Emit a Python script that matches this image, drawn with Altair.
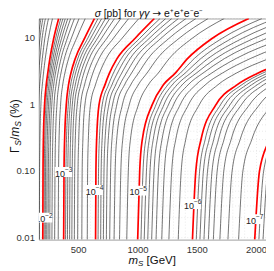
import altair as alt
import pandas as pd

# Gamma_S/m_S (%) heights at which each contour's m_S [GeV] was read
G = [0.0093, 0.1, 0.3, 1, 2, 3, 5, 10, 20]

# red decade contours 1e-2 ... 1e-7 pb
red_m = [
    [198, 200, 203, 213, 227, 240, 258, 290, 332],
    [374, 377, 382, 396, 415, 435, 472, 550, 634],
    [643, 646, 652, 672, 722, 760, 825, 975, 1139],
    [998, 1015, 1037, 1120, 1215, 1315, 1420, 1625, 1935],
    [1460, 1488, 1532, 1657, 1835, 2010, 2350, 3000, 3800],
    [1985, 2025, 2110, 2300, 2500, 2700, 3000, 3600, 4400],
]

# black contours k x 10^n (k = 9 ... 2 from left to right inside each decade)
black_above = [
    [108, 110, 112, 117, 123, 128, 136, 147, 169],
    [116, 118, 120, 125, 132, 137, 146, 160, 183],
    [125, 127, 129, 135, 142, 148, 158, 174, 199],
    [136, 138, 140, 147, 155, 163, 174, 192, 220],
    [151, 153, 155, 162, 172, 181, 194, 215, 246],
    [169, 171, 174, 182, 194, 204, 219, 245, 280],
]
black_2_3 = [
    [209, 211, 214, 224, 238, 252, 271, 306, 350],
    [219, 221, 224, 235, 250, 263, 284, 321, 368],
    [231, 233, 236, 247, 262, 276, 298, 338, 388],
    [243, 245, 249, 260, 275, 290, 313, 356, 409],
    [257, 259, 263, 274, 290, 305, 330, 377, 433],
    [275, 278, 282, 293, 310, 326, 352, 404, 465],
    [298, 301, 305, 317, 334, 351, 380, 438, 504],
    [328, 331, 335, 348, 366, 384, 416, 482, 556],
]
black_3_4 = [
    [390, 393, 398, 413, 433, 455, 493, 576, 664],
    [406, 409, 414, 429, 452, 474, 514, 601, 695],
    [424, 427, 432, 447, 472, 495, 537, 629, 727],
    [443, 446, 451, 466, 493, 518, 562, 658, 763],
    [464, 467, 472, 488, 518, 544, 590, 692, 803],
    [492, 495, 501, 517, 550, 578, 627, 737, 856],
    [527, 530, 536, 553, 590, 620, 673, 792, 922],
    [573, 576, 582, 600, 642, 676, 733, 865, 1008],
]
black_4_5 = [
    [664, 668, 675, 699, 752, 793, 861, 1014, 1187],
    [686, 690, 698, 726, 781, 827, 896, 1053, 1235],
    [709, 714, 723, 755, 813, 863, 935, 1095, 1286],
    [734, 740, 750, 786, 848, 902, 977, 1141, 1342],
    [762, 770, 781, 822, 887, 946, 1024, 1193, 1406],
    [799, 808, 821, 869, 939, 1004, 1087, 1261, 1489],
    [845, 856, 872, 927, 1003, 1076, 1164, 1346, 1593],
    [906, 919, 937, 1004, 1087, 1171, 1265, 1456, 1728],
]
black_5_6 = [
    [1026, 1043, 1067, 1152, 1252, 1357, 1476, 1708, 2047],
    [1053, 1072, 1096, 1184, 1289, 1398, 1532, 1790, 2159],
    [1083, 1102, 1129, 1219, 1330, 1444, 1592, 1879, 2280],
    [1116, 1136, 1163, 1257, 1373, 1492, 1657, 1976, 2411],
    [1153, 1173, 1203, 1300, 1423, 1548, 1732, 2086, 2560],
    [1201, 1223, 1255, 1356, 1488, 1621, 1829, 2230, 2756],
    [1261, 1285, 1319, 1426, 1568, 1711, 1950, 2409, 2998],
    [1340, 1365, 1403, 1517, 1674, 1829, 2108, 2643, 3315],
]
black_6_7 = [
    [1492, 1520, 1567, 1696, 1875, 2051, 2389, 3036, 3836],
    [1523, 1552, 1601, 1734, 1915, 2093, 2428, 3072, 3872],
    [1557, 1587, 1639, 1776, 1958, 2138, 2470, 3111, 3911],
    [1594, 1625, 1679, 1821, 2005, 2186, 2516, 3153, 3953],
    [1636, 1668, 1726, 1872, 2058, 2241, 2568, 3201, 4001],
    [1691, 1724, 1786, 1940, 2128, 2314, 2636, 3264, 4064],
    [1759, 1794, 1862, 2024, 2214, 2403, 2721, 3342, 4142],
    [1849, 1885, 1960, 2133, 2327, 2521, 2831, 3444, 4244],
]
black_below = [
    [2020, 2060, 2145, 2335, 2535, 2735, 3035, 3635, 4435],
    [2055, 2095, 2180, 2370, 2570, 2770, 3070, 3670, 4470],
]

# contour labels
label_exp = ["\u22122", "\u22123", "\u22124", "\u22125", "\u22126", "\u22127"]
label_m = [205, 372, 632, 1000, 1460, 1982]
label_g = [0.020, 0.097, 0.052, 0.051, 0.032, 0.019]

# axes
x_ticks = [500, 1000, 1500, 2000]
x_tick_text = ["500", "1000", "1500", "2000"]
y_ticks = [0.01, 0.1, 1, 10]
y_tick_text = ["0.01", "0.10", "1", "10"]
x_grid = [200, 300, 400, 500, 600, 700, 800, 900, 1000, 1100, 1200, 1300, 1400,
          1500, 1600, 1700, 1800, 1900, 2000]
y_grid = [0.01, 0.02, 0.03, 0.04, 0.05, 0.06, 0.07, 0.08, 0.09,
          0.1, 0.2, 0.3, 0.4, 0.5, 0.6, 0.7, 0.8, 0.9,
          1, 2, 3, 4, 5, 6, 7, 8, 9, 10, 20]

rows = []
groups = [("red", red_m), ("blk", black_above), ("blk", black_2_3), ("blk", black_3_4),
          ("blk", black_4_5), ("blk", black_5_6), ("blk", black_6_7), ("blk", black_below)]
cid = 0
for kind, curves in groups:
    for ms in curves:
        for g, m in zip(G, ms):
            rows.append({"id": cid, "m": m, "g": g, "kind": kind})
        cid += 1
df = pd.DataFrame(rows)
labels = pd.DataFrame({"m": label_m, "g": label_g, "e": label_exp})
xt_df = pd.DataFrame({"m": x_ticks, "t": x_tick_text})
yt_df = pd.DataFrame({"g": y_ticks, "t": y_tick_text})
xg_df = pd.DataFrame({"m": x_grid})
yg_df = pd.DataFrame({"g": y_grid})
one = pd.DataFrame({"a": [0]})

FONT = "Liberation Sans"
xs = alt.Scale(domain=[165, 2080], nice=False, zero=False)
ys = alt.Scale(type="log", domain=[0.00933, 20], nice=False)
X = alt.X("m:Q", scale=xs, axis=None)
Y = alt.Y("g:Q", scale=ys, axis=None)

gx = alt.Chart(xg_df).mark_rule(color="#dedede", strokeDash=[1, 2], strokeWidth=0.6).encode(x=X)
gy = alt.Chart(yg_df).mark_rule(color="#dedede", strokeDash=[1, 2], strokeWidth=0.6).encode(y=Y)

base = alt.Chart(df)
blk = base.transform_filter("datum.kind == 'blk'").mark_line(
    interpolate="monotone", clip=True, color="#383838", strokeWidth=0.7).encode(
    x=X, y=Y, detail="id:N", order="g:Q")
red = base.transform_filter("datum.kind == 'red'").mark_line(
    interpolate="monotone", clip=True, color="#ff0000", strokeWidth=1.7).encode(
    x=X, y=Y, detail="id:N", order="g:Q")

box = alt.Chart(labels).mark_point(
    shape="M-1.75,-1L1.75,-1L1.75,1L-1.75,1Z", filled=True, color="white",
    opacity=1, size=100, strokeWidth=0, clip=True).encode(x=X, y=Y)
ten = alt.Chart(labels).mark_text(
    font=FONT, fontSize=9, color="#222", align="right", dx=1.5, dy=1.5, clip=True).encode(
    x=X, y=Y, text=alt.value("10"))
sup = alt.Chart(labels).mark_text(
    font=FONT, fontSize=6.5, color="#222", align="left", dx=1.6, dy=-2, clip=True).encode(
    x=X, y=Y, text="e:N")

xlab = alt.Chart(xt_df).mark_text(
    font=FONT, fontSize=9.5, color="#333", align="center", baseline="middle").encode(
    x=X, y=alt.value(232), text="t:N")
ylab = alt.Chart(yt_df).mark_text(
    font=FONT, fontSize=9.5, color="#333", align="right", baseline="middle").encode(
    x=alt.value(-4), y=Y, text="t:N")


def piece(txt, x, y, dx, dy, size, italic=False, angle=0, font=FONT):
    return alt.Chart(one).mark_text(
        text=txt, font=font, fontSize=size, color="#111", align="left",
        baseline="middle", dx=dx, dy=dy, angle=angle,
        fontStyle="italic" if italic else "normal").encode(
        x=alt.value(x), y=alt.value(y))


TY = -4.5
TX = 56
title_parts = [
    piece("\u03c3", TX, TY, 0, 0, 10.5, True),
    piece("[pb] for", TX, TY, 9.0, 0, 10.5),
    piece("\u03b3\u03b3", TX, TY, 44.6, 0, 10.5, True),
    piece("\u2192", TX, TY, 58.0, 0, 10.5, False, 0, "DejaVu Sans"),
    piece("e\u207ae\u207ae\u207be\u207b", TX, TY, 69.7, 0, 10.5),
]
XX, XY = 90, 243
xt = [
    piece("m", XX, XY, 0, 0, 11.5, True),
    piece("S", XX, XY, 9.6, 3, 8, True),
    piece("[GeV]", XX, XY, 18.1, 0, 11.5),
]
YX, YY = -24, 135
yt = [
    piece("\u0393", YX, YY, 0, 0, 12, False, 270),
    piece("S", YX, YY, 7.2, 3, 8.5, True, 270),
    piece("/", YX, YY, 12.9, 0, 12, False, 270),
    piece("m", YX, YY, 16.2, 0, 12, True, 270),
    piece("S", YX, YY, 26.2, 3, 8.5, True, 270),
    piece("(%)", YX, YY, 35.2, 0, 12, False, 270),
]

chart = alt.layer(gx, gy, blk, red, box, ten, sup, xlab, ylab,
                  *title_parts, *xt, *yt).properties(
    width=228, height=222,
    autosize=alt.AutoSizeParams(type="none"),
    padding={"left": 31, "top": 10, "right": 0, "bottom": 31},
).configure_view(stroke="#a0a0a0", strokeWidth=1)

chart.save("out.html", embed_options={"renderer": "svg", "actions": False})
